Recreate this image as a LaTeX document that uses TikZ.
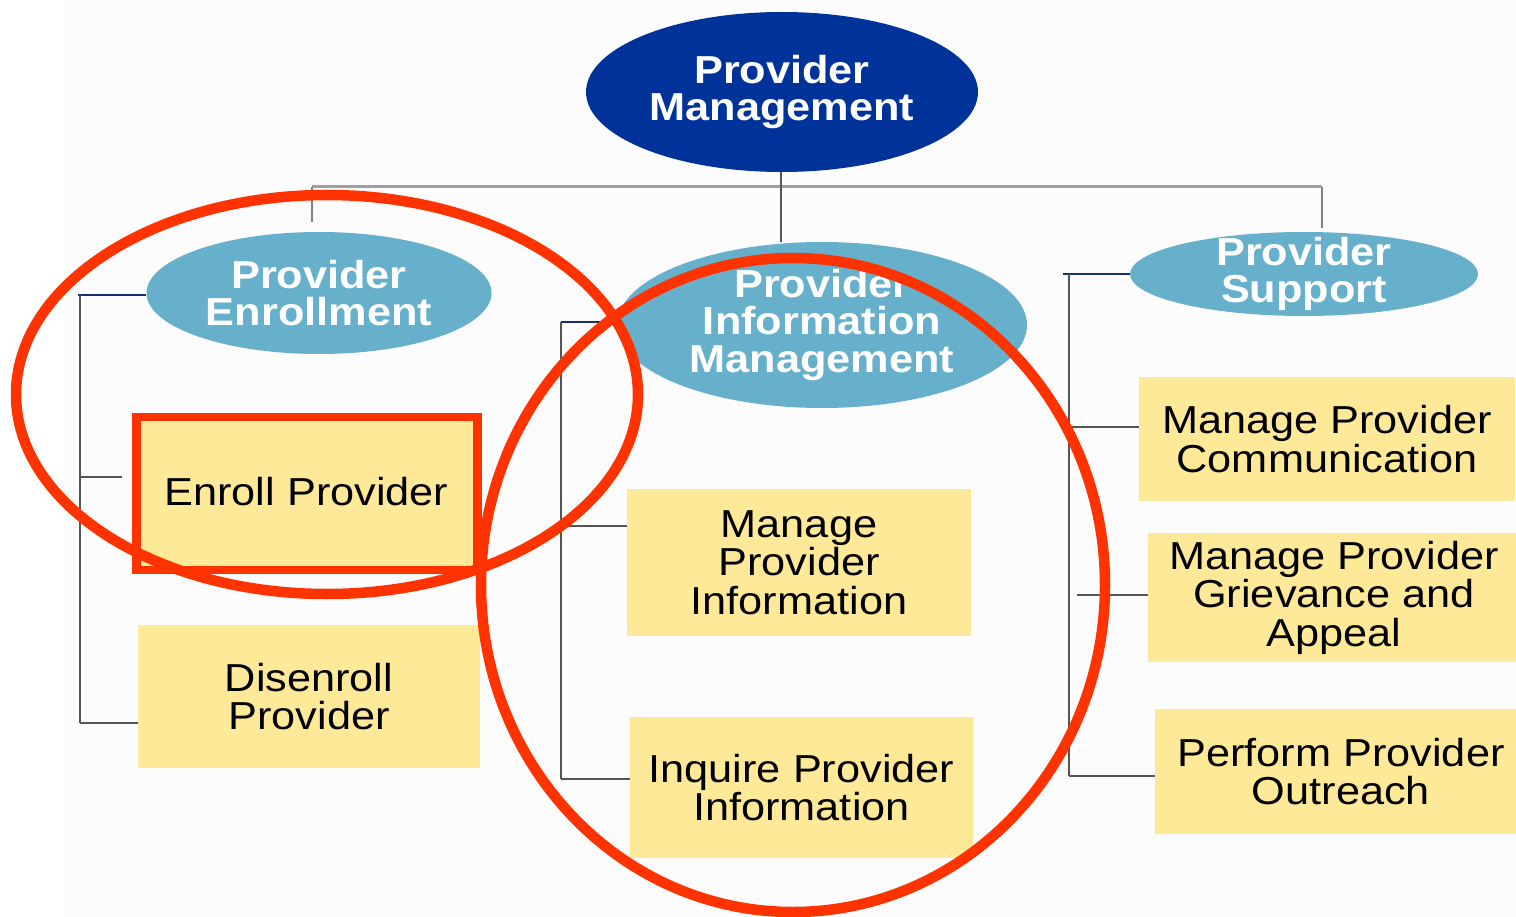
\documentclass[tikz,border=0pt]{standalone}
\usepackage{fontspec}
\setmainfont{Liberation Sans}[FakeStretch=1.11]
\usetikzlibrary{shapes.geometric}
\definecolor{dkblue}{RGB}{0,51,153}
\definecolor{ltblue}{RGB}{103,176,204}
\definecolor{boxyel}{RGB}{254,233,153}
\definecolor{annred}{RGB}{255,51,0}
\definecolor{stubnavy}{RGB}{25,45,115}
\definecolor{linegray}{RGB}{85,85,85}
\definecolor{bargray}{RGB}{160,160,160}
\definecolor{bggray}{RGB}{252,252,252}
\begin{document}
\begin{tikzpicture}[x=1pt,y=-1pt,
  oval/.style={ellipse, inner sep=0pt},
  etext/.style={text=white, font=\fontsize{39}{37.5}\selectfont\bfseries, align=center, inner sep=0pt},
  pbox/.style={fill=boxyel, inner sep=0pt, font=\fontsize{39}{38.5}\selectfont, align=center, text=black},
  conn/.style={draw=linegray, line width=2pt},
  stub/.style={draw=stubnavy, line width=2pt},
  bar/.style={draw=bargray, line width=3pt},
  annot/.style={draw=annred, line width=10.5pt},
]
\useasboundingbox (0,0) rectangle (1516,917);
\fill[bggray] (65,0) rectangle (1516,917);

% ---- top-level connector points
\coordinate (barL) at (312,187);
\coordinate (barR) at (1322,187);
\coordinate (dropL) at (312,222);
\coordinate (dropR) at (1322,228);

% ---- ellipses
\node[oval, fill=dkblue, minimum width=392pt, minimum height=160pt,
      label={[etext]center:{Provider\\Management}}] (pm) at (782,92) {};
\node[oval, fill=ltblue, minimum width=345pt, minimum height=122pt,
      label={[etext]center:{Provider\\Enrollment}}] (pe) at (319,293) {};
\node[oval, fill=ltblue, minimum width=410pt, minimum height=166pt,
      label={[etext]center:{Provider\\Information\\Management}}] (pim) at (822,325) {};
\node[oval, fill=ltblue, minimum width=348pt, minimum height=84pt,
      label={[etext]center:{Provider\\Support}}] (ps) at (1304,274) {};

\coordinate (pmfoot) at (781,172);
\draw[bar] (barL) -- (barR);
\draw[draw=gray, line width=2.5pt] (barL) -- (dropL);
\draw[draw=gray, line width=2.5pt] (barR) -- (dropR);
\draw[conn] (pmfoot) -- (pmfoot |- pim.north);

% ---- boxes
\node[pbox, minimum width=337pt, minimum height=148pt] (ep) at (306.5,492) {Enroll Provider};
\node[pbox, minimum width=342pt, minimum height=143pt] (dp) at (309,696.5) {Disenroll\\Provider};
\node[pbox, minimum width=344pt, minimum height=147pt] (mpi) at (799,562.5) {Manage\\Provider\\Information};
\node[pbox, minimum width=343pt, minimum height=141pt] (ipi) at (801.5,787.5) {Inquire Provider\\Information};
\node[pbox, minimum width=376pt, minimum height=124pt] (mpc) at (1327,439) {Manage Provider\\Communication};
\node[pbox, minimum width=372pt, minimum height=129pt] (mpg) at (1334,597.5) {Manage Provider\\Grievance and\\Appeal};
\node[pbox, minimum width=372pt, minimum height=125pt] (ppo) at (1341,771.5) {Perform Provider\\Outreach};

% ---- left bracket
\coordinate (L0) at (78,295);
\coordinate (L1) at (80,295);
\coordinate (L2) at (80,477);
\coordinate (L2e) at (122,477);
\coordinate (L3) at (80,723);
\draw[stub] (L0) -- (L0 -| pe.west);
\draw[conn] (L1) -- (L3);
\draw[conn] (L2) -- (L2e);
\draw[conn] (L3) -- (L3 -| dp.west);

% ---- middle bracket
\coordinate (M0) at (561,322);
\coordinate (M1) at (561,526);
\coordinate (M2) at (561,779);
\draw[stub] (M0) -- (M0 -| pim.west);
\draw[conn] (M0) -- (M2);
\draw[conn] (M1) -- (M1 -| mpi.west);
\draw[conn] (M2) -- (M2 -| ipi.west);

% ---- right bracket
\coordinate (R0) at (1063,274);
\coordinate (R1) at (1069,274);
\coordinate (R2) at (1069,427);
\coordinate (R3) at (1077,595);
\coordinate (R4) at (1069,776);
\draw[stub] (R0) -- (ps.west);
\draw[conn] (R1) -- (R4);
\draw[conn] (R2) -- (R2 -| mpc.west);
\draw[conn] (R3) -- (R3 -| mpg.west);
\draw[conn] (R4) -- (R4 -| ppo.west);

% ---- red annotations
\draw[annot] (327,394.5) ellipse [x radius=311, y radius=199.5];
\draw[annot] (793,585) ellipse [x radius=312, y radius=327];
\draw[annot, line width=8.5pt] (136.5,417) rectangle (477.5,570);
\end{tikzpicture}
\end{document}
